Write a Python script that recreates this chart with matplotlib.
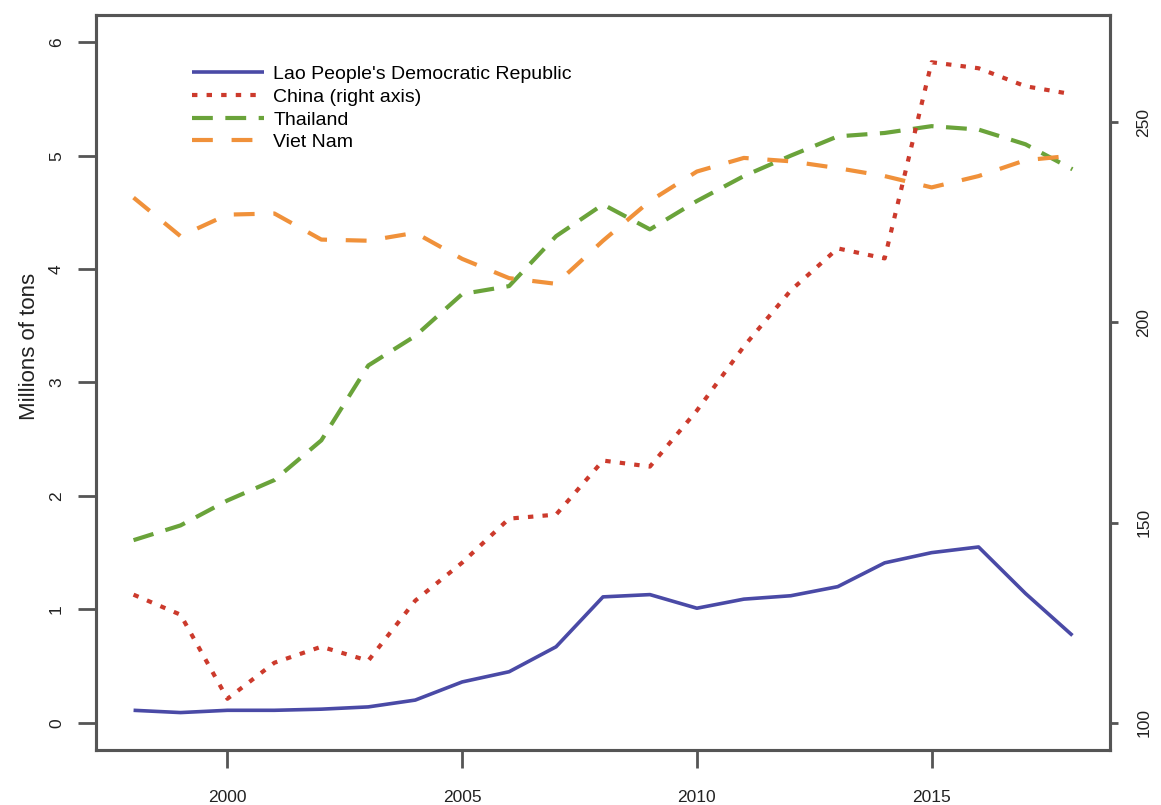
import matplotlib.pyplot as plt

plt.rcParams['font.family'] = ['Liberation Sans', 'DejaVu Sans']

# Rice production, millions of tons
years = list(range(1998, 2019))
lao = [0.11, 0.09, 0.11, 0.11, 0.12, 0.14, 0.20, 0.36, 0.45, 0.67, 1.11,
       1.13, 1.01, 1.09, 1.12, 1.20, 1.41, 1.50, 1.55, 1.14, 0.77]
china = [132, 127, 106, 115, 119, 115.5, 130.5, 140, 151, 152, 165.5,
         164, 178, 194, 208, 218.5, 216, 265, 263.5, 259, 257]
thailand = [1.61, 1.74, 1.96, 2.14, 2.49, 3.15, 3.41, 3.78, 3.85, 4.29, 4.57,
            4.35, 4.60, 4.82, 5.00, 5.17, 5.20, 5.26, 5.23, 5.10, 4.88]
vietnam = [4.63, 4.29, 4.48, 4.49, 4.26, 4.25, 4.32, 4.09, 3.92, 3.87, 4.25,
           4.60, 4.86, 4.98, 4.95, 4.89, 4.82, 4.72, 4.82, 4.96, 5.00]

labels = ["Lao People's Democratic Republic", "China (right axis)", "Thailand", "Viet Nam"]
left_ticks = [0, 1, 2, 3, 4, 5, 6]
right_ticks = [100, 150, 200, 250]
x_ticks = [2000, 2005, 2010, 2015]

col_lao = "#4a4aa6"
col_china = "#cc3a2c"
col_thai = "#6aa33a"
col_viet = "#f0913a"
axcol = "#555555"
txtcol = "#222222"

fig = plt.figure(figsize=(11.61, 8.05), dpi=100)
ax = fig.add_axes([96 / 1161, 1 - 750 / 805, (1110 - 96) / 1161, (750 - 15) / 805])
ax2 = ax.twinx()

l1, = ax.plot(years, lao, color=col_lao, lw=2.6, solid_capstyle="butt")
l3, = ax.plot(years, thailand, color=col_thai, lw=3.0, dashes=(5, 3))
l4, = ax.plot(years, vietnam, color=col_viet, lw=3.0, dashes=(5, 4.5))
l2, = ax2.plot(years, china, color=col_china, lw=3.0, dashes=(1.3, 2.2))

ax.set_xlim(1997.2, 2018.8)
ax.set_ylim(-0.24, 6.24)
ax2.set_ylim(93.2, 276.8)

ax.set_xticks(x_ticks)
ax.set_yticks(left_ticks)
ax2.set_yticks(right_ticks)

for a in (ax, ax2):
    for s in a.spines.values():
        s.set_color(axcol)
        s.set_linewidth(2.2)
    a.tick_params(colors=axcol, width=2, labelsize=12.5, labelcolor=txtcol)

ax.tick_params(axis="y", length=13, labelrotation=90, pad=10)
ax.tick_params(axis="x", length=13, pad=16)
ax2.tick_params(axis="y", length=6, labelrotation=90, pad=13)
for t in ax.get_yticklabels() + ax2.get_yticklabels():
    t.set_va("center")

fig.text(30 / 1161, 1 - 346 / 805, "Millions of tons", rotation=90,
         ha="center", va="center", fontsize=16, color=txtcol)

ax.legend([l1, l2, l3, l4], labels, loc="upper left", frameon=False,
          bbox_to_anchor=(0.077, 0.955), fontsize=14, handlelength=3.7,
          handletextpad=0.5, labelspacing=0.26)

fig.savefig("out.png", dpi=100)
